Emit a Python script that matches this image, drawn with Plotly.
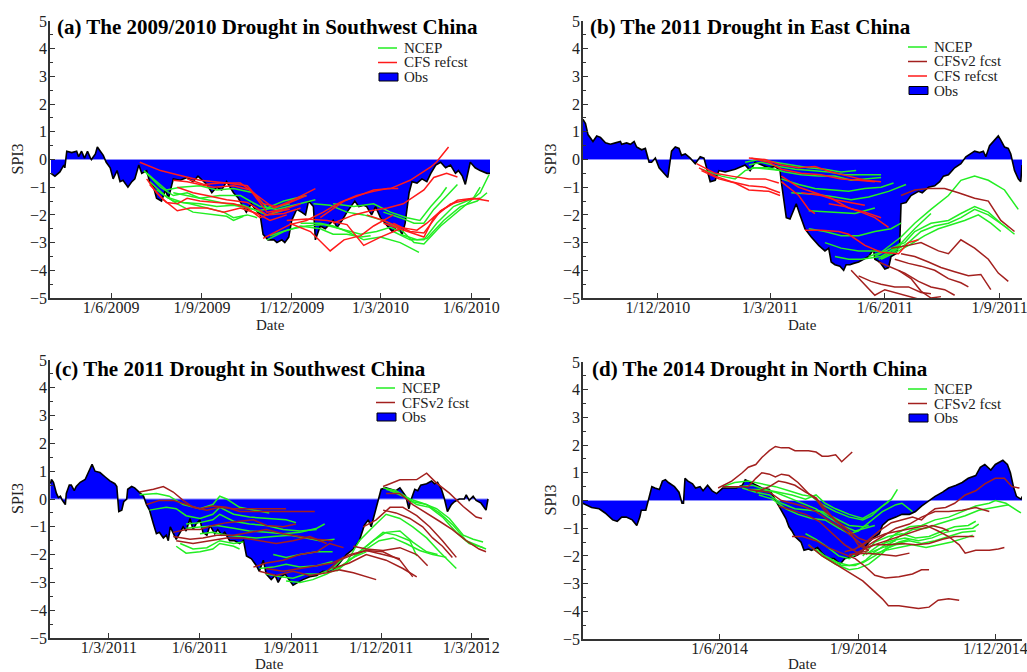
import datetime as dt
import plotly.graph_objects as go

W, H = 1027, 672
FONT = "Liberation Serif"

# ---------------- DATA ----------------
# Each series: (day offset from the panel's base date, SPI3 value)

# (a) The 2009/2010 Drought in Southwest China
base_a = "2009-04-01"
range_a = (-1, 445)
ticks_a = ["2009-06-01", "2009-09-01", "2009-12-01", "2010-03-01", "2010-06-01"]
ticklabels_a = ["1/6/2009", "1/9/2009", "1/12/2009", "1/3/2010", "1/6/2010"]
obs_a = [(0,-0.5),(4,-0.6),(9,-0.45),(13,-0.2),(14,-0.3),(16,0.3),(21,0.25),(26,0.3),(28,0.1),(31,0.3),
         (34,0.05),(37,0.3),(40,0.05),(41,0),(45,0.2),(47,0.45),(50,0.3),(53,0.15),(56,-0.1),(60,-0.3),
         (63,-0.7),(67,-0.4),(70,-0.8),(73,-0.75),(78,-1.0),(82,-0.8),(85,-0.7),(89,-0.2),(92,-0.5),(97,-0.4),
         (100,-0.8),(104,-1.0),(107,-1.4),(112,-1.5),(116,-1.1),(119,-1.4),(124,-0.7),(131,-0.75),(138,-0.65),(144,-0.8),
         (149,-0.6),(155,-0.8),(158,-0.9),(163,-1.2),(168,-1.0),(173,-1.1),(178,-0.8),(185,-1.2),(190,-1.4),(193,-1.6),
         (198,-1.9),(203,-1.6),(207,-1.8),(212,-2.0),(215,-2.7),(220,-2.9),(226,-2.9),(229,-3.0),(234,-2.9),(237,-3.0),
         (241,-2.8),(244,-2.2),(249,-1.8),(254,-1.9),(258,-2.0),(261,-1.5),(266,-1.7),(268,-2.9),(273,-2.4),(278,-2.5),
         (281,-2.4),(286,-2.2),(290,-2.45),(295,-2.2),(300,-1.9),(308,-1.5),(312,-1.7),(317,-1.65),(320,-1.7),(325,-2.0),
         (329,-1.7),(334,-2.1),(341,-2.4),(346,-2.6),(351,-2.4),(356,-2.7),(359,-2.3),(363,-1.2),(366,-0.8),(371,-0.85),
         (376,-0.7),(381,-0.8),(385,-0.5),(390,-0.2),(395,-0.1),(400,-0.3),(405,-0.2),(410,-0.5),(413,-0.4),(417,-0.6),
         (420,-0.9),(425,-0.1),(430,-0.3),(435,-0.4),(442,-0.5),(445,-0.5)]
ncep_a = [
    [(94,-0.4),(107,-0.8),(117,-1.1),(131,-1.0),(151,-0.95),(168,-1.1),(185,-1.05),(205,-1.2),(219,-1.75),(236,-1.5),(259,-1.3)],
    [(97,-0.5),(111,-1.0),(124,-1.3),(138,-1.2),(151,-1.4),(171,-1.3),(192,-1.3),(212,-1.7),(229,-1.8),(246,-1.65),(268,-1.45)],
    [(100,-0.8),(117,-1.35),(134,-1.55),(151,-1.6),(168,-1.7),(185,-1.65),(205,-1.8),(219,-2.0),(239,-1.8)],
    [(107,-1.1),(124,-1.5),(141,-1.6),(158,-1.75),(175,-1.9),(185,-2.1),(199,-2.0),(209,-2.1)],
    [(111,-1.2),(128,-1.6),(144,-1.9),(165,-2.0),(178,-2.05),(185,-2.2),(195,-2.05)],
    [(124,-1.2),(144,-1.35),(158,-1.45),(178,-1.6),(195,-1.65),(209,-1.85),(226,-1.75),(242,-1.6)],
    [(219,-2.9),(236,-2.6),(253,-2.4),(273,-2.5),(286,-2.7),(300,-2.7),(314,-2.8),(324,-2.75)],
    [(222,-2.75),(239,-2.55),(259,-2.4),(276,-2.35),(293,-2.5),(314,-2.7),(330,-2.6),(344,-2.45),(354,-2.6)],
    [(253,-2.3),(273,-2.3),(286,-2.4),(300,-2.6),(317,-2.9),(334,-2.8),(354,-3.0),(373,-3.35)],
    [(266,-1.6),(283,-1.65),(300,-1.9),(317,-2.0),(337,-2.2),(354,-2.5),(368,-3.0),(378,-3.05),(395,-2.4),(415,-1.8),(435,-1.2),(444,-0.55)],
    [(286,-1.6),(307,-1.7),(327,-1.6),(344,-1.9),(361,-2.1),(374,-2.2),(385,-1.7),(395,-1.3),(401,-1.0)],
    [(337,-1.9),(354,-2.1),(368,-2.3),(378,-2.3),(388,-1.8),(401,-1.3),(412,-0.9)],
    [(347,-2.6),(364,-2.9),(378,-2.9),(391,-2.3),(408,-1.7),(428,-1.4),(435,-1.0)],
    [(354,-2.7),(371,-2.9),(381,-2.85),(398,-2.2),(415,-1.7),(432,-1.5),(442,-1.2)],
]
refcst_a = [
    [(90,-0.1),(111,-0.4),(128,-0.55),(151,-0.75),(178,-0.85),(199,-0.95),(215,-1.6),(229,-1.7),(246,-1.45),(268,-1.05)],
    [(97,-0.7),(107,-1.2),(117,-1.55),(128,-1.6),(138,-1.4),(151,-1.5),(168,-1.55),(185,-1.6),(199,-1.75),(212,-2.1),(226,-1.9),(242,-1.8)],
    [(100,-0.9),(114,-1.45),(128,-1.85),(141,-1.75),(158,-1.75),(175,-1.9),(192,-1.75),(209,-1.95),(222,-2.2),(239,-2.0)],
    [(124,-0.75),(138,-0.8),(151,-0.9),(165,-1.0),(185,-0.95),(202,-1.1),(219,-1.9),(236,-1.8),(253,-1.6)],
    [(128,-1.0),(144,-1.2),(158,-1.3),(178,-1.45),(199,-1.55),(219,-2.0),(236,-1.95),(253,-1.75)],
    [(138,-0.7),(155,-0.9),(171,-0.85),(192,-0.85),(209,-1.3),(226,-1.75),(242,-1.55),(259,-1.3)],
    [(215,-2.85),(229,-2.6),(242,-2.35),(259,-2.2),(276,-1.9),(293,-1.55),(310,-1.3),(327,-1.15),(341,-1.05),(352,-1.05)],
    [(242,-2.3),(263,-2.6),(283,-3.3),(297,-2.9),(314,-2.75),(327,-2.4),(347,-2.0)],
    [(239,-2.2),(259,-2.15),(280,-2.2),(300,-2.35),(317,-3.1),(334,-2.8),(354,-2.5)],
    [(273,-2.1),(297,-1.5),(327,-1.1),(344,-1.05),(364,-0.75),(385,-0.27),(391,-0.08),(403,0.45)],
    [(286,-2.3),(307,-2.0),(324,-1.85),(341,-1.75),(357,-1.6),(378,-1.1),(388,-0.65),(401,-0.5),(412,-0.63)],
    [(337,-2.3),(354,-2.5),(371,-2.7),(378,-2.8),(388,-2.1),(405,-1.6),(422,-1.45),(435,-1.4)],
    [(347,-2.3),(364,-2.6),(378,-2.65),(395,-1.85),(412,-1.47),(428,-1.4),(444,-1.5)],
    [(320,-2.0),(337,-2.2),(354,-2.45),(371,-2.55),(381,-2.3),(395,-1.85),(412,-1.5)],
]

# (b) The 2011 Drought in East China
base_b = "2010-10-01"
range_b = (1, 353)
ticks_b = ["2010-12-01", "2011-03-01", "2011-06-01", "2011-09-01"]
ticklabels_b = ["1/12/2010", "1/3/2011", "1/6/2011", "1/9/2011"]
obs_b = [(1,1.45),(3,1.3),(5,0.9),(9,0.65),(12,0.85),(15,0.8),(19,0.6),(23,0.55),(27,0.6),(31,0.65),
         (32,0.55),(36,0.6),(39,0.55),(42,0.65),(44,0.45),(48,0.35),(51,0.4),(54,-0.1),(56,-0.1),(59,0.05),
         (62,-0.3),(65,-0.45),(69,-0.65),(72,0.3),(75,0.45),(78,0.4),(80,0.15),(83,0.2),(87,0.05),(91,-0.15),
         (95,0.1),(98,0.05),(100,-0.3),(103,-0.8),(107,-0.75),(110,-0.4),(115,-0.45),(123,-0.35),(131,-0.2),(135,-0.4),
         (139,-0.1),(144,-0.2),(150,-0.3),(155,-0.25),(159,-0.4),(160,-0.8),(162,-1.5),(164,-2.1),(167,-2.15),(170,-1.8),
         (172,-1.6),(175,-2.0),(179,-2.5),(184,-2.8),(190,-3.1),(195,-3.3),(198,-3.2),(200,-3.7),(203,-3.8),(207,-3.85),
         (210,-4.0),(212,-3.8),(215,-3.8),(218,-3.75),(222,-3.7),(226,-3.6),(230,-3.5),(234,-3.25),(235,-3.6),(239,-3.7),
         (243,-3.95),(246,-3.9),(248,-3.5),(252,-3.4),(255,-3.0),(256,-1.6),(260,-1.55),(264,-1.3),(270,-1.15),(273,-1.2),
         (278,-1.0),(283,-0.95),(287,-0.8),(290,-0.6),(294,-0.55),(299,-0.3),(304,-0.15),(308,0.1),(311,0.2),(315,0.3),
         (319,0.25),(322,0.3),(324,0.1),(327,0.5),(331,0.7),(334,0.85),(336,0.7),(339,0.45),(342,0.4),(344,0.2),
         (347,-0.4),(350,-0.7),(352,-0.8),(353,-0.2)]
ncep_b = [
    [(96,-0.35),(112,-0.6),(123,-0.7),(131,-0.4),(139,-0.3),(150,-0.35),(160,-0.4)],
    [(131,-0.1),(142,0.0),(155,-0.1),(168,-0.2),(182,-0.3),(195,-0.35),(208,-0.45),(220,-0.4)],
    [(134,-0.2),(144,-0.1),(158,-0.25),(171,-0.35),(184,-0.4),(198,-0.45),(211,-0.55),(224,-0.55),(240,-0.55)],
    [(136,-0.3),(150,-0.3),(163,-0.45),(176,-0.55),(190,-0.6),(203,-0.6),(216,-0.75),(230,-0.7),(240,-0.65)],
    [(160,-0.7),(174,-0.9),(187,-1.05),(200,-1.1),(214,-1.15),(227,-1.05),(240,-1.0),(250,-0.85)],
    [(168,-1.2),(187,-1.25),(203,-1.35),(216,-1.45),(230,-1.35),(246,-1.15),(260,-0.9)],
    [(182,-1.85),(200,-1.9),(219,-1.95),(235,-1.75)],
    [(182,-2.5),(195,-2.6),(208,-2.75),(222,-2.75),(235,-2.6),(248,-2.5),(256,-2.3)],
    [(195,-3.0),(208,-3.2),(222,-3.3),(235,-3.3),(246,-3.35),(256,-3.0)],
    [(203,-3.5),(214,-3.6),(224,-3.6),(232,-3.55),(240,-3.5),(248,-3.3),(256,-3.1)],
    [(230,-3.5),(240,-3.35),(256,-2.8),(267,-2.3),(280,-1.8),(294,-1.3),(304,-0.75),(315,-0.6),(326,-0.75),(339,-1.1),(350,-1.8)],
    [(235,-3.5),(248,-3.2),(259,-3.0),(267,-2.6),(280,-2.3),(294,-2.2),(304,-1.95),(315,-1.7),(326,-1.9),(336,-2.3),(347,-2.7)],
    [(238,-3.6),(251,-3.3),(262,-3.0),(272,-2.6),(283,-2.4),(294,-2.3),(304,-2.1),(315,-1.8),(326,-2.0),(336,-2.3),(342,-2.5)],
    [(240,-3.6),(254,-3.3),(264,-3.05),(275,-2.75),(286,-2.5),(296,-2.35),(307,-2.2),(318,-2.0),(328,-2.3),(336,-2.6)],
    [(248,-3.4),(259,-2.9),(267,-2.5),(280,-1.95)],
]
fcst_b = [
    [(256,-1.3),(267,-1.1),(278,-1.05),(291,-1.05),(302,-1.2),(315,-1.4),(326,-1.5),(336,-2.2),(347,-2.6)],
    [(248,-3.2),(262,-3.1),(272,-3.0),(286,-3.3),(294,-3.4),(304,-2.9),(315,-3.2),(326,-3.6),(334,-4.1),(342,-4.4)],
    [(256,-3.4),(267,-3.5),(278,-3.7),(288,-3.9),(299,-4.05),(310,-4.2),(320,-4.15),(328,-4.7)],
    [(216,-4.0),(227,-4.5),(235,-4.9),(243,-4.7),(256,-4.85),(267,-5.0),(275,-5.1)],
    [(222,-4.2),(232,-4.4),(240,-4.5),(251,-4.6),(262,-4.6),(272,-4.8),(280,-4.85)],
    [(238,-3.7),(248,-3.9),(259,-4.1),(270,-4.4),(280,-4.6),(291,-4.7),(299,-4.9)],
    [(251,-3.6),(262,-3.75),(272,-3.85),(283,-4.0),(294,-4.3),(304,-4.45),(310,-4.6)],
    [(254,-4.0),(264,-4.3),(272,-4.75),(280,-5.0),(288,-4.95)],
]
refcst_b = [
    [(92,-0.15),(107,-0.5),(120,-0.6),(134,-0.7),(147,-0.7),(158,-0.85)],
    [(94,-0.3),(107,-0.6),(120,-0.8),(134,-0.95),(147,-1.0),(159,-1.2)],
    [(96,-0.4),(110,-0.7),(123,-0.85),(134,-1.1),(150,-1.15),(159,-1.3)],
    [(134,0.05),(147,0.0),(160,-0.2),(174,-0.3),(187,-0.25),(200,-0.45),(214,-0.6),(227,-0.75),(240,-0.8)],
    [(136,0.05),(150,-0.1),(160,-0.35),(176,-0.5),(192,-0.55),(208,-0.7),(222,-0.75),(235,-0.8)],
    [(160,-0.6),(174,-1.0),(187,-1.2),(200,-1.4),(214,-1.75),(227,-1.9),(240,-2.1)],
    [(160,-0.8),(174,-1.3),(182,-1.8),(187,-1.95)],
    [(179,-2.55),(192,-2.55),(206,-2.6),(214,-2.7),(227,-3.1),(240,-3.35),(254,-3.4),(262,-3.0),(270,-2.9)],
    [(198,-1.6),(211,-1.7),(224,-1.9),(235,-2.1),(246,-2.45)],
    [(176,-1.2),(192,-1.3),(203,-1.45),(214,-1.55),(227,-1.65)],
]

# (c) The 2011 Drought in Southwest China
base_c = "2011-01-01"
range_c = (-0.5, 443)
ticks_c = ["2011-03-01", "2011-06-01", "2011-09-01", "2011-12-01", "2012-03-01"]
ticklabels_c = ["1/3/2011", "1/6/2011", "1/9/2011", "1/12/2011", "1/3/2012"]
obs_c = [(0,0.55),(1,0.7),(3,0.6),(6,0.2),(8,0.05),(10,0.1),(12,-0.05),(15,-0.2),(16,0.2),(19,0.5),
         (21,0.5),(24,0.3),(26,0.45),(30,0.6),(35,0.7),(38,0.95),(42,1.25),(45,1.0),(50,0.95),(55,0.8),
         (60,0.65),(65,0.55),(67,0.45),(69,-0.45),(72,-0.4),(74,-0.1),(77,0.0),(78,0.35),(82,0.45),(85,0.4),
         (88,0.3),(90,0.25),(94,0.1),(97,-0.2),(100,-0.4),(104,-0.9),(107,-1.25),(110,-1.2),(114,-1.4),(117,-1.3),
         (119,-1.5),(121,-1.0),(124,-1.2),(127,-1.45),(131,-1.2),(134,-1.0),(137,-1.15),(141,-0.7),(144,-1.1),(147,-0.9),
         (151,-0.75),(154,-1.2),(158,-1.3),(161,-0.95),(166,-1.25),(169,-1.1),(173,-1.3),(176,-1.2),(181,-1.5),(186,-1.5),
         (191,-1.6),(195,-1.5),(198,-2.05),(203,-2.15),(208,-2.4),(211,-2.6),(215,-2.2),(218,-2.7),(223,-2.9),(227,-2.75),
         (230,-3.0),(233,-2.8),(237,-2.7),(242,-2.95),(245,-3.1),(250,-3.0),(255,-2.9),(262,-2.8),(269,-2.75),(275,-2.6),
         (280,-2.6),(285,-2.6),(292,-2.3),(299,-2.0),(306,-1.8),(312,-1.5),(317,-0.95),(321,-0.75),(324,-1.0),(327,-0.6),
         (331,-0.1),(334,0.35),(339,0.4),(344,0.35),(349,0.3),(353,0.4),(356,0.25),(359,0.1),(362,-0.35),(364,-0.05),
         (368,0.35),(371,0.3),(374,0.5),(380,0.55),(385,0.65),(388,0.55),(391,0.6),(395,0.35),(398,0.0),(401,-0.45),
         (405,-0.2),(408,-0.1),(413,0.0),(418,0.0),(420,0.15),(423,-0.05),(427,0.1),(430,-0.05),(435,-0.15),(440,-0.4),
         (442,0.0)]
ncep_c = [
    [(90,0.15),(107,0.2),(120,0.1),(134,-0.2),(151,-0.35),(164,-0.2),(171,0.1),(178,0.0),(191,-0.3),(208,-0.4),(221,-0.5)],
    [(100,-0.4),(117,-0.3),(127,-0.35),(137,-0.6),(151,-0.7),(164,-0.55),(171,-0.3),(185,-0.55),(201,-0.65),(218,-0.7),(238,-0.75),(248,-0.85)],
    [(137,-0.9),(151,-0.85),(164,-0.75),(171,-0.55),(185,-0.8),(201,-0.9),(218,-0.95),(235,-1.1),(252,-1.15),(269,-1.1)],
    [(137,-1.05),(154,-1.0),(168,-0.95),(185,-1.05),(201,-1.15),(218,-1.2),(235,-1.25),(252,-1.2),(269,-1.05),(277,-0.9)],
    [(127,-1.7),(137,-1.95),(151,-1.9),(164,-1.8),(171,-1.6),(185,-1.7),(191,-1.8)],
    [(131,-1.6),(144,-1.8),(158,-1.75),(171,-1.5),(185,-1.6),(195,-1.55)],
    [(151,-1.25),(164,-1.2),(178,-1.3),(191,-1.35),(208,-1.4),(225,-1.35),(242,-1.3),(258,-1.4),(272,-1.5),(287,-1.45)],
    [(211,-2.5),(225,-2.45),(238,-2.35),(252,-2.45),(269,-2.4),(285,-2.25)],
    [(218,-2.7),(232,-2.8),(245,-2.85),(258,-2.7),(272,-2.7),(285,-2.5),(296,-2.1)],
    [(225,-2.0),(238,-2.1),(252,-2.0),(269,-1.9),(285,-1.9)],
    [(238,-2.95),(252,-3.0),(265,-2.9),(279,-2.7),(292,-2.45),(306,-2.1),(319,-1.9)],
    [(285,-2.6),(299,-2.3),(312,-1.9),(326,-1.5),(339,-1.2),(353,-1.15),(366,-1.55),(380,-1.9),(391,-2.0)],
    [(289,-2.6),(302,-2.2),(319,-1.8),(332,-1.5),(346,-1.4),(359,-1.6),(373,-1.85),(386,-2.0),(400,-2.1)],
    [(299,-2.3),(312,-1.5),(326,-1.0),(339,-0.55),(353,-0.7),(366,-1.0),(380,-1.4),(393,-1.9),(410,-2.5)],
    [(309,-2.0),(322,-1.6),(336,-1.2),(349,-1.3),(363,-1.5),(370,-2.05)],
    [(336,0.4),(349,0.3),(363,0.0),(376,-0.15),(390,-0.35),(403,-0.7),(417,-1.3),(427,-1.45),(437,-1.55)],
    [(339,0.35),(353,0.2),(366,-0.1),(380,-0.2),(393,-0.5),(407,-0.95),(420,-1.5),(433,-1.7),(440,-1.8)],
    [(343,0.3),(356,0.1),(370,-0.2),(383,-0.3),(396,-0.65),(410,-1.2),(423,-1.6),(437,-1.75)],
]
fcst_c = [
    [(90,0.25),(104,0.35),(114,0.45),(124,0.25),(134,-0.05),(144,-0.3),(158,-0.4),(171,-0.3),(185,-0.35),(205,-0.35),(225,-0.35),(238,-0.35)],
    [(97,-0.2),(110,-0.05),(124,-0.05),(137,-0.2),(151,-0.35),(164,-0.25),(178,-0.3),(191,-0.45),(211,-0.45),(228,-0.45),(248,-0.45),(267,-0.45)],
    [(124,-1.2),(137,-1.1),(151,-1.1),(164,-0.95),(178,-0.85),(191,-0.8),(205,-0.75),(218,-0.95),(235,-1.0),(248,-0.9)],
    [(124,-1.35),(141,-1.45),(154,-1.4),(168,-1.3),(185,-1.3),(201,-1.2),(218,-1.1),(235,-1.25),(252,-1.35),(269,-1.45),(285,-1.5)],
    [(127,-1.5),(144,-1.6),(161,-1.5),(178,-1.4),(195,-1.4),(211,-1.5),(228,-1.6),(245,-1.5),(262,-1.35),(279,-1.6)],
    [(205,-2.45),(218,-2.3),(235,-2.2),(252,-2.0),(269,-1.9),(282,-1.6),(296,-1.75)],
    [(211,-2.6),(228,-2.75),(245,-2.6),(262,-2.75),(279,-2.65),(292,-2.55),(306,-2.65),(319,-2.8),(329,-2.9)],
    [(218,-2.5),(235,-2.6),(252,-2.5),(269,-2.4),(285,-2.3),(302,-2.0),(319,-1.85),(336,-2.0),(353,-2.15)],
    [(279,-2.6),(292,-2.2),(306,-2.0),(319,-1.85),(336,-1.9),(353,-2.2),(366,-2.8)],
    [(285,-2.5),(302,-2.3),(319,-2.0),(339,-2.2),(356,-2.5),(370,-2.8)],
    [(306,-1.7),(319,-1.8),(336,-1.85),(353,-1.75),(370,-2.0),(381,-2.4)],
    [(316,-1.0),(329,-0.75),(343,-0.3),(356,-0.3),(370,-0.6),(383,-1.0),(396,-1.5),(410,-2.1)],
    [(336,0.45),(353,0.69),(370,0.7),(380,0.93),(390,0.57),(403,0.21),(417,-0.27),(430,-0.65),(436,-0.7)],
    [(339,0.2),(353,0.2),(366,-0.2),(380,-0.5),(393,-0.8),(406,-1.1),(420,-1.5),(433,-1.8),(440,-1.9)],
    [(336,-0.4),(349,-0.5),(363,-0.7),(376,-1.0),(386,-1.4),(396,-1.7),(406,-2.1)],
]

# (d) The 2014 Drought in North China
base_d = "2014-03-01"
range_d = (1.3, 292.7)
ticks_d = ["2014-06-01", "2014-09-01", "2014-12-01"]
ticklabels_d = ["1/6/2014", "1/9/2014", "1/12/2014"]
obs_d = [(1,-0.1),(7,-0.25),(12,-0.3),(16,-0.45),(21,-0.7),(24,-0.75),(27,-0.6),(30,-0.6),(34,-0.7),(37,-0.9),
         (39,-0.6),(40,-0.35),(43,-0.35),(45,0.1),(47,0.5),(49,0.45),(52,0.4),(54,0.7),(56,0.75),(58,0.65),
         (62,0.5),(65,0.3),(67,-0.1),(68,-0.1),(69,0.8),(71,0.7),(74,0.6),(76,0.45),(79,0.5),(81,0.35),
         (84,0.55),(87,0.35),(90,0.25),(94,0.45),(98,0.45),(103,0.45),(107,0.55),(109,0.75),(111,0.7),(116,0.55),
         (120,0.45),(125,0.4),(127,0.2),(129,0.0),(131,-0.2),(133,-0.35),(136,-0.65),(138,-0.95),(140,-1.1),(142,-1.3),
         (146,-1.5),(148,-1.8),(151,-1.75),(153,-1.8),(157,-1.7),(160,-1.9),(162,-2.0),(164,-2.1),(168,-2.1),(170,-2.2),
         (172,-2.3),(175,-2.1),(179,-2.05),(182,-2.0),(184,-1.95),(187,-1.8),(189,-1.65),(191,-1.5),(194,-1.35),(198,-1.2),
         (200,-0.9),(204,-0.7),(209,-0.6),(213,-0.5),(218,-0.5),(222,-0.4),(226,-0.2),(231,0.0),(235,0.15),(240,0.3),
         (244,0.45),(249,0.55),(253,0.65),(257,0.8),(262,0.9),(265,1.2),(268,1.3),(272,1.1),(275,1.3),(280,1.45),
         (283,1.3),(285,1.0),(287,0.5),(289,0.15),(292,0.05),(293,0.15)]
ncep_d = [
    [(94,0.5),(102,0.65),(111,0.7),(120,0.6),(129,0.5),(138,0.35),(147,0.2),(153,0.15),(160,-0.15),(169,-0.4),(178,-0.6),(187,-0.7),(193,-0.55),(200,-0.2),(206,0.05),(210,0.4)],
    [(96,0.5),(105,0.5),(114,0.55),(122,0.4),(131,0.3),(140,0.2),(149,0.05),(156,0.2),(162,-0.1),(169,-0.3),(178,-0.5),(187,-0.65),(195,-0.4),(200,-0.2),(204,-0.05)],
    [(107,0.45),(116,0.3),(125,0.2),(133,-0.1),(142,-0.3),(151,-0.35),(160,-0.4),(169,-0.65),(178,-0.9),(187,-0.95),(191,-0.9)],
    [(111,0.4),(120,0.4),(129,0.3),(138,0.1),(147,-0.1),(156,-0.3),(164,-0.6),(173,-0.9),(182,-1.1),(189,-1.0),(195,-0.9)],
    [(118,0.2),(127,0.05),(136,-0.3),(144,-0.5),(153,-0.65),(162,-0.7),(171,-1.0),(178,-1.2),(184,-1.1),(191,-0.8),(200,-0.4),(209,-0.15),(213,-0.1),(220,-0.4)],
    [(149,-1.2),(156,-1.4),(164,-1.7),(171,-2.0),(178,-2.1),(182,-1.95)],
    [(151,-1.6),(160,-2.0),(169,-2.3),(178,-2.5),(184,-2.45),(191,-2.3),(198,-2.0),(204,-1.7),(211,-1.5),(218,-1.4)],
    [(156,-1.75),(164,-2.1),(173,-2.35),(182,-2.35),(189,-2.15),(195,-1.85),(202,-1.6),(209,-1.45)],
    [(162,-2.0),(171,-2.25),(178,-2.35),(187,-2.25),(195,-2.0),(202,-1.75),(209,-1.6),(215,-1.55)],
    [(187,-2.0),(195,-1.5),(204,-1.3),(213,-1.2),(222,-1.35),(231,-1.3),(240,-1.1),(248,-0.95),(257,-0.9),(262,-0.75)],
    [(189,-1.95),(198,-1.6),(206,-1.45),(215,-1.35),(224,-1.45),(233,-1.35),(242,-1.15),(251,-1.05),(260,-1.0),(264,-0.85)],
    [(191,-1.9),(200,-1.7),(209,-1.55),(218,-1.45),(226,-1.55),(235,-1.45),(244,-1.3),(253,-1.15),(262,-1.1)],
    [(193,-1.95),(202,-1.8),(211,-1.7),(220,-1.6),(229,-1.7),(237,-1.6),(246,-1.5),(255,-1.35),(260,-1.25)],
    [(200,-1.6),(209,-1.2),(218,-0.95),(226,-0.9),(235,-0.7),(244,-0.6),(253,-0.4),(262,-0.2),(271,-0.1),(275,0.0),(282,-0.1),(288,-0.3),(292,-0.45)],
    [(202,-1.7),(211,-1.3),(220,-1.05),(229,-1.0),(237,-0.85),(246,-0.7),(255,-0.55),(264,-0.35),(273,-0.25),(279,-0.2),(284,-0.15)],
]
fcst_d = [
    [(91,0.45),(100,0.7),(107,1.0),(111,1.2),(116,1.3),(120,1.55),(125,1.8),(129,1.95),(133,1.9),(138,1.9),(142,1.8),(151,1.8),(156,1.75),(160,1.6),(164,1.6),(169,1.65),(173,1.4),(178,1.65),(180,1.75)],
    [(94,0.5),(102,0.5),(111,0.5),(116,0.8),(120,1.0),(125,0.95),(129,0.85),(133,0.95),(138,0.9),(144,0.65),(151,0.25),(156,0.05),(162,-0.4),(169,-0.7),(178,-1.1),(184,-1.35),(191,-1.5)],
    [(116,0.3),(125,0.5),(131,0.7),(136,0.65),(142,0.55),(149,0.3),(156,0.1),(162,-0.3),(169,-0.75),(178,-1.1),(184,-1.6),(191,-1.8)],
    [(111,0.4),(125,0.3),(133,0.0),(140,-0.1),(147,-0.2),(156,-0.4),(164,-0.7),(173,-1.0),(180,-1.3),(189,-1.7)],
    [(131,-0.2),(140,-0.35),(149,-0.5),(158,-0.75),(167,-1.2),(175,-1.6),(184,-1.9),(191,-1.8)],
    [(140,-1.3),(147,-1.3),(156,-1.45),(164,-1.7),(173,-1.9),(182,-2.1),(189,-2.4),(195,-2.7),(202,-2.8),(211,-2.75),(220,-2.65),(226,-2.5),(231,-2.5)],
    [(151,-1.6),(160,-2.0),(169,-2.3),(178,-2.6),(187,-2.9),(193,-3.2),(200,-3.55),(204,-3.8),(211,-3.8),(218,-3.85),(224,-3.9),(231,-3.85),(237,-3.6),(244,-3.55),(251,-3.6)],
    [(175,-1.85),(182,-1.75),(189,-1.5),(198,-1.1),(206,-0.8),(213,-0.7),(220,-0.6),(226,-0.7),(231,-0.45),(235,-0.3),(242,-0.25),(248,-0.1),(255,0.2),(262,0.35),(268,0.6),(275,0.8),(281,0.8),(286,0.5),(291,0.45)],
    [(182,-2.0),(191,-1.6),(200,-1.3),(209,-1.0),(218,-0.85),(226,-0.6),(235,-0.4),(244,-0.4),(253,-0.35),(262,-0.25),(271,-0.4)],
    [(184,-1.7),(193,-1.4),(202,-1.2),(211,-1.1),(220,-1.0),(229,-0.9),(237,-1.1),(244,-1.3),(251,-1.6),(255,-1.9),(262,-1.8),(271,-1.8),(277,-1.75),(281,-1.7)],
    [(178,-2.0),(187,-1.8),(195,-1.6),(204,-1.6),(213,-1.55),(222,-1.6),(231,-1.55),(240,-1.4),(248,-1.3),(255,-1.3),(261,-1.3)],
    [(189,-1.7),(200,-1.5),(211,-1.3),(222,-1.1),(233,-0.9),(240,-1.0),(244,-1.1)],
    [(178,-1.95),(189,-1.9),(200,-1.95),(209,-2.0),(218,-1.9)],
]

titles = ["(a) The 2009/2010 Drought in Southwest China",
          "(b) The 2011 Drought in East China",
          "(c) The 2011 Drought in Southwest China",
          "(d) The 2014 Drought in North China"]

# ---------------- STYLE / LAYOUT ----------------
GREEN = "#22ee22"
RED = "#ff1a1a"
DARKRED = "#a3201e"
BLUE = "#0000ff"
AXC = "#333333"

panels = [
    dict(base=base_a, rng=range_a, ticks=ticks_a, labels=ticklabels_a, obs=obs_a,
         series=[(ncep_a, GREEN), (refcst_a, RED)],
         legend=[("NCEP", GREEN, 48), ("CFS refcst", RED, 62.5), ("Obs", None, 77)], leg_x=378,
         title=titles[0], px=(50, 490), py=(21, 298), title_xy=(55, 27), date_y=325, spi_x=17),
    dict(base=base_b, rng=range_b, ticks=ticks_b, labels=ticklabels_b, obs=obs_b,
         series=[(ncep_b, GREEN), (refcst_b, RED), (fcst_b, DARKRED)],
         legend=[("NCEP", GREEN, 47), ("CFSv2 fcst", DARKRED, 61.5), ("CFS refcst", RED, 76), ("Obs", None, 90.5)], leg_x=908,
         title=titles[1], px=(583, 1022), py=(21, 298), title_xy=(588, 27), date_y=325, spi_x=550),
    dict(base=base_c, rng=range_c, ticks=ticks_c, labels=ticklabels_c, obs=obs_c,
         series=[(ncep_c, GREEN), (fcst_c, DARKRED)],
         legend=[("NCEP", GREEN, 388), ("CFSv2 fcst", DARKRED, 402.5), ("Obs", None, 417)], leg_x=376,
         title=titles[2], px=(50, 489), py=(360, 638), title_xy=(53, 369), date_y=664, spi_x=17),
    dict(base=base_d, rng=range_d, ticks=ticks_d, labels=ticklabels_d, obs=obs_d,
         series=[(ncep_d, GREEN), (fcst_d, DARKRED)],
         legend=[("NCEP", GREEN, 389), ("CFSv2 fcst", DARKRED, 403.5), ("Obs", None, 418)], leg_x=908,
         title=titles[3], px=(583, 1022), py=(362, 639), title_xy=(590, 369), date_y=664, spi_x=550),
]


def day_to_date(base, d):
    b = dt.datetime.fromisoformat(base)
    return (b + dt.timedelta(days=float(d))).strftime("%Y-%m-%d %H:%M:%S")


def fx(px):
    return px / W


def fy(py):
    return 1 - py / H


fig = go.Figure()
shapes = []
annotations = []
layout = {}

for i, p in enumerate(panels):
    sfx = "" if i == 0 else str(i + 1)
    xa, ya = "x" + sfx, "y" + sfx
    base = p["base"]

    od = [day_to_date(base, d) for d, _ in p["obs"]]
    ov = [v for _, v in p["obs"]]
    fig.add_trace(go.Scatter(x=od, y=[0] * len(od), mode="lines", xaxis=xa, yaxis=ya,
                             line=dict(color="#8c8cff", width=1.2), showlegend=False, hoverinfo="skip"))
    fig.add_trace(go.Scatter(x=od, y=ov, mode="lines", xaxis=xa, yaxis=ya, fill="tonexty",
                             fillcolor=BLUE, line=dict(color="black", width=1.6), showlegend=False))
    for lines, col in p["series"]:
        for ln in lines:
            fig.add_trace(go.Scatter(x=[day_to_date(base, d) for d, _ in ln], y=[v for _, v in ln],
                                     mode="lines", xaxis=xa, yaxis=ya,
                                     line=dict(color=col, width=1.5), showlegend=False))

    layout["xaxis" + sfx] = dict(
        domain=[fx(p["px"][0]), fx(p["px"][1])], anchor=ya, type="date",
        range=[day_to_date(base, p["rng"][0]), day_to_date(base, p["rng"][1])],
        tickmode="array", tickvals=p["ticks"], ticktext=p["labels"],
        ticks="inside", ticklen=5, tickwidth=1, tickcolor=AXC, ticklabelstandoff=-6,
        ticklabeloverflow="allow",
        showline=True, linecolor=AXC, linewidth=1.5, showgrid=False, zeroline=False,
        tickfont=dict(family=FONT, size=16, color="#222"), automargin=False)
    layout["yaxis" + sfx] = dict(
        domain=[fy(p["py"][1]), fy(p["py"][0])], anchor=xa, range=[-5, 5],
        tickmode="linear", tick0=-5, dtick=1,
        ticks="inside", ticklen=5, tickwidth=1, tickcolor=AXC, ticklabelstandoff=-2,
        minor=dict(ticks="inside", ticklen=3, dtick=0.5, tickcolor=AXC),
        showline=True, linecolor=AXC, linewidth=1.5, showgrid=False, zeroline=False,
        tickfont=dict(family=FONT, size=16, color="#222"), automargin=False)

    # title
    tx, ty = p["title_xy"]
    annotations.append(dict(text="<b>" + p["title"] + "</b>", x=fx(tx), y=fy(ty), xref="paper", yref="paper",
                            xanchor="left", yanchor="middle", showarrow=False,
                            font=dict(family=FONT, size=21, color="black")))
    # axis titles
    cx = (p["px"][0] + p["px"][1]) / 2
    annotations.append(dict(text="Date", x=fx(cx), y=fy(p["date_y"]), xref="paper", yref="paper",
                            xanchor="center", yanchor="middle", showarrow=False, borderpad=0,
                            font=dict(family=FONT, size=15, color="#222")))
    cy = (p["py"][0] + p["py"][1]) / 2
    annotations.append(dict(text="SPI3", x=fx(p["spi_x"]), y=fy(cy), xref="paper", yref="paper",
                            xanchor="center", yanchor="middle", showarrow=False, textangle=-90,
                            font=dict(family=FONT, size=16, color="#222")))
    # manual legend
    lx = p["leg_x"]
    for label, col, ly in p["legend"]:
        if col is None:
            shapes.append(dict(type="rect", xref="paper", yref="paper",
                               x0=fx(lx + 1), x1=fx(lx + 20), y0=fy(ly + 4), y1=fy(ly - 4),
                               fillcolor=BLUE, line=dict(color="black", width=1)))
        else:
            shapes.append(dict(type="line", xref="paper", yref="paper",
                               x0=fx(lx), x1=fx(lx + 19), y0=fy(ly), y1=fy(ly),
                               line=dict(color=col, width=1.5)))
        annotations.append(dict(text=label, x=fx(lx + 25), y=fy(ly), xref="paper", yref="paper",
                                xanchor="left", yanchor="middle", showarrow=False, borderpad=0,
                                font=dict(family=FONT, size=15, color="#222")))

fig.update_layout(
    width=W, height=H, margin=dict(l=0, r=0, t=0, b=0),
    paper_bgcolor="white", plot_bgcolor="white",
    showlegend=False, shapes=shapes, annotations=annotations, **layout)

fig.write_html("out.html", config={"displayModeBar": False},
               post_script="document.body.style.margin='0px';document.body.style.overflow='hidden';")
